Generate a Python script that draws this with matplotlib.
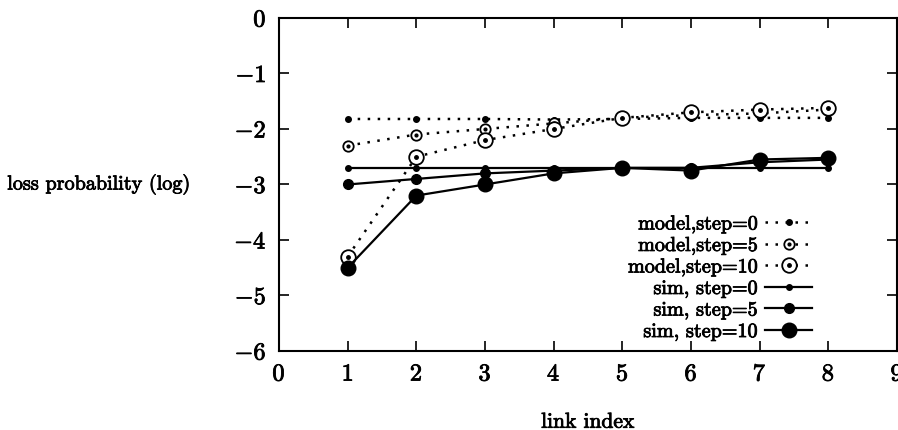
import numpy as np
import matplotlib
matplotlib.use("Agg")
import matplotlib.pyplot as plt
import matplotlib.patheffects as pe
from matplotlib.legend_handler import HandlerTuple

plt.rcParams['font.family'] = 'serif'
plt.rcParams['font.serif'] = ['cmr10', 'DejaVu Serif']
plt.rcParams['axes.formatter.use_mathtext'] = True
plt.rcParams['mathtext.fontset'] = 'cm'

# --- data ---
links = [1, 2, 3, 4, 5, 6, 7, 8]
model_s0 = [-1.82, -1.82, -1.82, -1.83, -1.82, -1.8, -1.8, -1.8]
model_s5 = [-2.3, -2.1, -2.0, -1.9, -1.8, -1.75, -1.72, -1.65]
model_s10 = [-4.3, -2.5, -2.2, -2.0, -1.8, -1.7, -1.65, -1.62]
sim_s0 = [-2.7, -2.7, -2.7, -2.7, -2.7, -2.7, -2.7, -2.7]
sim_s5 = [-3.0, -2.9, -2.8, -2.75, -2.7, -2.7, -2.6, -2.55]
sim_s10 = [-4.5, -3.2, -3.0, -2.8, -2.7, -2.75, -2.55, -2.52]

fig = plt.figure(figsize=(8.98, 4.31), dpi=100)
ax = fig.add_axes([0.3107, 0.1833, 0.6882, 0.7727])

k = 'black'
dot = (0, (1, 3))
h1, = ax.plot(links, model_s0, ls=dot, color=k, lw=1.8, marker='o', ms=4)
h2, = ax.plot(links, model_s5, ls=dot, color=k, lw=1.8, marker='o', ms=7.5, mfc='white', mew=1.3)
h2d, = ax.plot(links, model_s5, ls='none', color=k, marker='o', ms=2)
h3, = ax.plot(links, model_s10, ls=dot, color=k, lw=1.8, marker='o', ms=10.5, mfc='white', mew=1.3)
h3d, = ax.plot(links, model_s10, ls='none', color=k, marker='o', ms=2.5)
h4, = ax.plot(links, sim_s0, '-', color=k, lw=1.6, marker='o', ms=4)
h5, = ax.plot(links, sim_s5, '-', color=k, lw=1.6, marker='o', ms=7)
h6, = ax.plot(links, sim_s10, '-', color=k, lw=1.6, marker='o', ms=10.5)

ax.set_xlim(0, 9)
ax.set_ylim(-6, 0)
ax.set_xticks(range(0, 10))
ax.set_yticks(range(-6, 1))
ax.tick_params(direction='in', top=True, right=True, length=7, width=1.2,
               labelsize=17.5, pad=9)
for s in ax.spines.values():
    s.set_linewidth(1.5)

ax.set_xlabel('link index', fontsize=15.5, va='center')
ax.xaxis.set_label_coords(0.5, -0.213)
ax.set_ylabel('loss probability (log)', fontsize=14.5, rotation=0,
              ha='right', va='center')
ax.yaxis.set_label_coords(-0.144, 0.5)

leg = ax.legend([h1, (h2, h2d), (h3, h3d), h4, h5, h6],
                ['model,step=0', 'model,step=5', 'model,step=10',
                 'sim, step=0', 'sim, step=5', 'sim, step=10'],
                handler_map={tuple: HandlerTuple(ndivide=1)},
                loc='lower right', bbox_to_anchor=(0.862, 0.03), frameon=False,
                markerfirst=False, fontsize=14.5, handlelength=2.3,
                labelspacing=0.17, borderaxespad=0, borderpad=0,
                handletextpad=0.4)

# scanned look: slightly heavier text
stroke = [pe.withStroke(linewidth=0.6, foreground='black')]
texts = ax.get_xticklabels() + ax.get_yticklabels() + leg.get_texts()
texts += [ax.xaxis.label, ax.yaxis.label]
for t in texts:
    t.set_path_effects(stroke)

fig.savefig('out.png', dpi=100)
